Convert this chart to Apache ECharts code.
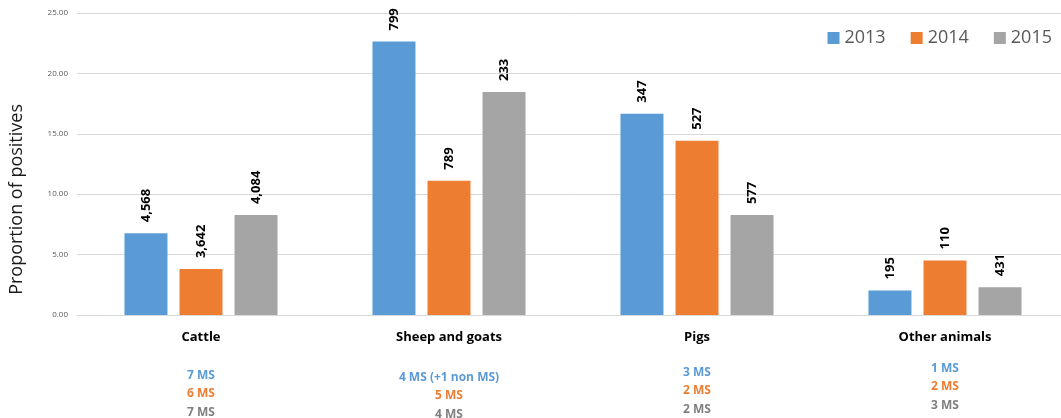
<!DOCTYPE html>
<html>
<head>
<meta charset="utf-8">
<script src="https://cdn.jsdelivr.net/npm/echarts@6/dist/echarts.min.js"></script>
<style>
html,body{margin:0;padding:0;background:#fff;}
#chart{width:1061px;height:418px;}
</style>
</head>
<body>
<div id="chart"></div>
<script>
// ---- data ----
var categories = ['Cattle', 'Sheep and goats', 'Pigs', 'Other animals'];
var years = ['2013', '2014', '2015'];
var values2013 = [6.77, 22.64, 16.67, 2.03];
var values2014 = [3.80, 11.12, 14.42, 4.52];
var values2015 = [8.27, 18.46, 8.27, 2.30];
var samples2013 = ['4,568', '799', '347', '195'];
var samples2014 = ['3,642', '789', '527', '110'];
var samples2015 = ['4,084', '233', '577', '431'];
var ms2013 = ['7 MS', '4 MS (+1 non MS)', '3 MS', '1 MS'];
var ms2014 = ['6 MS', '5 MS', '2 MS', '2 MS'];
var ms2015 = ['7 MS', '4 MS', '2 MS', '3 MS'];
var yTicks = [0, 5, 10, 15, 20, 25];

var colors = ['#5B9BD5', '#ED7D31', '#A5A5A5'];
var spacer = [19, 21, 16, 12];

function makeSeries(name, vals, samples, color) {
  return {
    name: name,
    type: 'bar',
    data: vals,
    barWidth: 43,
    barGap: '28%',
    itemStyle: { color: color },
    label: {
      show: true,
      position: 'top',
      rotate: 90,
      align: 'left',
      verticalAlign: 'middle',
      distance: 11,
      fontFamily: 'Open Sans',
      fontWeight: 'bold',
      fontSize: 13,
      color: '#000',
      formatter: function (p) { return samples[p.dataIndex]; }
    }
  };
}

var chart = echarts.init(document.getElementById('chart'));
chart.setOption({
  animation: false,
  textStyle: { fontFamily: 'Open Sans' },
  grid: { left: 77, right: -8, top: 13, bottom: 103, containLabel: false, outerBoundsMode: 'none' },
  legend: {
    data: years,
    right: 4,
    top: 24,
    itemWidth: 12,
    itemHeight: 12,
    itemGap: 25,
    icon: 'rect',
    textStyle: { fontSize: 18, color: '#595959', fontFamily: 'Open Sans' }
  },
  xAxis: {
    type: 'category',
    data: categories,
    axisLine: { show: true, lineStyle: { color: '#D9D9D9', width: 1 } },
    axisTick: { show: false },
    axisLabel: {
      interval: 0,
      margin: 12,
      formatter: function (v, i) {
        return '{cat|' + v + '}\n{sp' + i + '| }\n{b|' + ms2013[i] + '}\n{o|' + ms2014[i] + '}\n{g|' + ms2015[i] + '}';
      },
      rich: {
        cat: { fontSize: 13, fontWeight: 'bold', color: '#000', lineHeight: 20, fontFamily: 'Open Sans' },
        sp0: { lineHeight: spacer[0], fontSize: 1 },
        sp1: { lineHeight: spacer[1], fontSize: 1 },
        sp2: { lineHeight: spacer[2], fontSize: 1 },
        sp3: { lineHeight: spacer[3], fontSize: 1 },
        b: { fontSize: 12, fontWeight: 'bold', color: '#5B9BD5', lineHeight: 18.5, fontFamily: 'Open Sans' },
        o: { fontSize: 12, fontWeight: 'bold', color: '#ED7D31', lineHeight: 18.5, fontFamily: 'Open Sans' },
        g: { fontSize: 12, fontWeight: 'bold', color: '#7F7F7F', lineHeight: 18.5, fontFamily: 'Open Sans' }
      }
    }
  },
  yAxis: {
    type: 'value',
    min: yTicks[0],
    max: yTicks[yTicks.length - 1],
    interval: 5,
    axisLine: { show: false },
    axisTick: { show: false },
    splitLine: { lineStyle: { color: '#D9D9D9', width: 1 } },
    axisLabel: {
      margin: 9,
      fontSize: 8,
      color: '#595959',
      fontFamily: 'Open Sans',
      formatter: function (v) { return v.toFixed(2); }
    }
  },
  graphic: [{
    type: 'text',
    left: 8,
    top: 104,
    rotation: Math.PI / 2,
    style: {
      text: 'Proportion of positives',
      fontSize: 18,
      fill: '#1a1a1a',
      fontFamily: 'Open Sans'
    }
  }],
  series: [
    makeSeries(years[0], values2013, samples2013, colors[0]),
    makeSeries(years[1], values2014, samples2014, colors[1]),
    makeSeries(years[2], values2015, samples2015, colors[2])
  ]
});
</script>
</body>
</html>
